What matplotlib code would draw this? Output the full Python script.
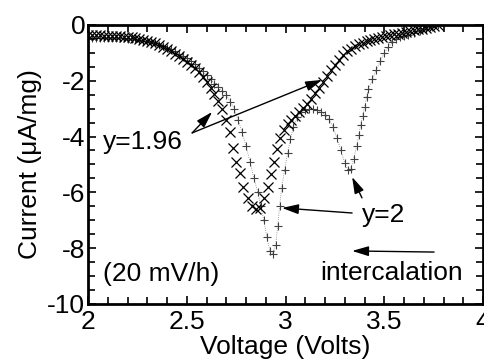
import matplotlib
matplotlib.use("Agg")
import matplotlib.pyplot as plt
import numpy as np
from matplotlib.ticker import MultipleLocator, FormatStrFormatter

plt.rcParams['font.family'] = ['Liberation Sans', 'DejaVu Sans']
plt.rcParams['axes.unicode_minus'] = False

# y = 1.96 (x markers)
v_196 = [2.00, 2.02, 2.04, 2.06, 2.08, 2.10, 2.12, 2.14, 2.16, 2.18, 2.20, 2.22, 2.24, 2.26,
         2.28, 2.30, 2.32, 2.34, 2.36, 2.38, 2.40, 2.42, 2.44, 2.46, 2.48, 2.50, 2.52, 2.54,
         2.56, 2.58, 2.60, 2.62, 2.64, 2.66, 2.68, 2.70, 2.72, 2.735, 2.75, 2.77, 2.785, 2.81,
         2.83, 2.85, 2.87, 2.89, 2.91, 2.925, 2.94, 2.955, 2.97, 2.99, 3.01, 3.03, 3.05, 3.07,
         3.09, 3.11, 3.13, 3.15, 3.17, 3.19, 3.21, 3.23, 3.25, 3.27, 3.29, 3.31, 3.33, 3.35,
         3.37, 3.39, 3.41, 3.43, 3.45, 3.47, 3.49, 3.51, 3.53, 3.55, 3.57, 3.59, 3.61, 3.63,
         3.65, 3.67, 3.69, 3.71, 3.73, 3.75, 3.77]
i_196 = [-0.35, -0.36, -0.36, -0.37, -0.38, -0.38, -0.39, -0.40, -0.41, -0.42, -0.44, -0.45,
         -0.47, -0.50, -0.53, -0.57, -0.61, -0.66, -0.72, -0.79, -0.86, -0.94, -1.03, -1.12,
         -1.22, -1.32, -1.43, -1.56, -1.70, -1.86, -2.05, -2.25, -2.48, -2.73, -3.02, -3.40,
         -3.85, -4.40, -4.90, -5.30, -5.80, -6.20, -6.50, -6.60, -6.55, -6.20, -5.80, -5.35,
         -4.90, -4.45, -4.05, -3.75, -3.55, -3.40, -3.27, -3.12, -2.98, -2.82, -2.65, -2.45,
         -2.25, -2.05, -1.83, -1.62, -1.42, -1.24, -1.08, -0.95, -0.85, -0.77, -0.70, -0.64,
         -0.59, -0.54, -0.50, -0.46, -0.43, -0.40, -0.37, -0.34, -0.31, -0.28, -0.25, -0.22,
         -0.19, -0.16, -0.13, -0.10, -0.07, -0.04, -0.01]

# y = 2 (+ markers)
v_2 = [2.00, 2.02, 2.04, 2.06, 2.08, 2.10, 2.12, 2.14, 2.16, 2.18, 2.20, 2.22, 2.24, 2.26,
       2.28, 2.30, 2.32, 2.34, 2.36, 2.38, 2.40, 2.42, 2.44, 2.46, 2.48, 2.50, 2.52, 2.54,
       2.56, 2.58, 2.60, 2.62, 2.64, 2.66, 2.68, 2.70, 2.72, 2.74, 2.76, 2.78, 2.80, 2.82,
       2.84, 2.86, 2.875, 2.89, 2.905, 2.92, 2.935, 2.95, 2.96, 2.97, 2.98, 2.995, 3.01,
       3.025, 3.04, 3.06, 3.08, 3.10, 3.12, 3.14, 3.16, 3.18, 3.20, 3.22, 3.24, 3.26, 3.28,
       3.30, 3.315, 3.33, 3.345, 3.36, 3.37, 3.38, 3.39, 3.40, 3.41, 3.42, 3.44, 3.46, 3.48,
       3.50, 3.52, 3.54, 3.56, 3.58, 3.60, 3.62, 3.65, 3.68, 3.71, 3.74, 3.77]
i_2 = [-0.48, -0.48, -0.47, -0.47, -0.47, -0.47, -0.47, -0.47, -0.48, -0.48, -0.49, -0.50,
       -0.52, -0.54, -0.56, -0.59, -0.62, -0.66, -0.71, -0.76, -0.82, -0.88, -0.95, -1.03,
       -1.11, -1.20, -1.30, -1.41, -1.53, -1.66, -1.80, -1.95, -2.10, -2.24, -2.37, -2.50,
       -2.75, -3.00, -3.40, -3.85, -4.35, -4.90, -5.50, -6.00, -6.50, -7.00, -7.60, -8.10,
       -8.20, -7.90, -7.20, -6.50, -5.85, -5.20, -4.60, -4.10, -3.65, -3.30, -3.12, -3.05,
       -3.02, -3.02, -3.05, -3.12, -3.22, -3.38, -3.65, -4.05, -4.50, -4.95, -5.20, -5.15,
       -4.80, -4.35, -3.95, -3.60, -3.25, -2.95, -2.60, -2.30, -1.95, -1.60, -1.30, -1.00,
       -0.78, -0.62, -0.52, -0.45, -0.40, -0.35, -0.29, -0.22, -0.15, -0.08, -0.01]

fig = plt.figure(figsize=(4.84, 3.61), dpi=100)
ax = fig.add_axes([0.182, 0.158, 0.816, 0.773])

ax.plot(v_2, i_2, color="0.5", lw=0.6, ls=":", marker="+", ms=6, mew=0.8, mec="0.25")
ax.plot(v_196, i_196, ls="none", marker="x", ms=7, mew=0.9, color="black")

ax.set_xlim(2, 4)
ax.set_ylim(-10, 0)
ax.xaxis.set_major_locator(MultipleLocator(0.5))
ax.xaxis.set_minor_locator(MultipleLocator(0.1))
ax.yaxis.set_major_locator(MultipleLocator(2))
ax.yaxis.set_minor_locator(MultipleLocator(0.5))
ax.xaxis.set_major_formatter(FormatStrFormatter("%g"))
ax.yaxis.set_major_formatter(FormatStrFormatter("%g"))
ax.tick_params(which="both", direction="in", top=True, right=True, width=1.2,
               labelsize=19)
ax.tick_params(which="major", length=6)
ax.tick_params(which="minor", length=5)
ax.tick_params(axis="x", pad=4)
ax.tick_params(axis="y", pad=2)
for s in ax.spines.values():
    s.set_linewidth(2)

ax.set_xlabel("Voltage (Volts)", fontsize=19, labelpad=1)
ax.set_ylabel("Current (\u03bcA/mg)", fontsize=19, labelpad=4)

arrow = dict(arrowstyle="-|>,head_length=1.0,head_width=0.3", color="black",
             lw=1.0, shrinkA=0, shrinkB=0)

ax.text(2.076, -4.19, "y=1.96", fontsize=19, va="center", ha="left")
ax.annotate("", xy=(2.628, -3.12), xytext=(2.527, -3.87), arrowprops=arrow)
ax.annotate("", xy=(3.185, -1.97), xytext=(2.527, -3.87), arrowprops=arrow)

ax.text(3.387, -6.81, "y=2", fontsize=19, va="center", ha="left")
ax.annotate("", xy=(3.337, -5.45), xytext=(3.387, -6.2), arrowprops=arrow)
ax.annotate("", xy=(2.982, -6.56), xytext=(3.337, -6.74), arrowprops=arrow)

ax.annotate("", xy=(3.337, -8.10), xytext=(3.752, -8.14), arrowprops=arrow)
ax.text(3.899, -8.89, "intercalation", fontsize=19, va="center", ha="right")
ax.text(2.076, -8.91, "(20 mV/h)", fontsize=19, va="center", ha="left")

fig.savefig("out.png", dpi=100)
